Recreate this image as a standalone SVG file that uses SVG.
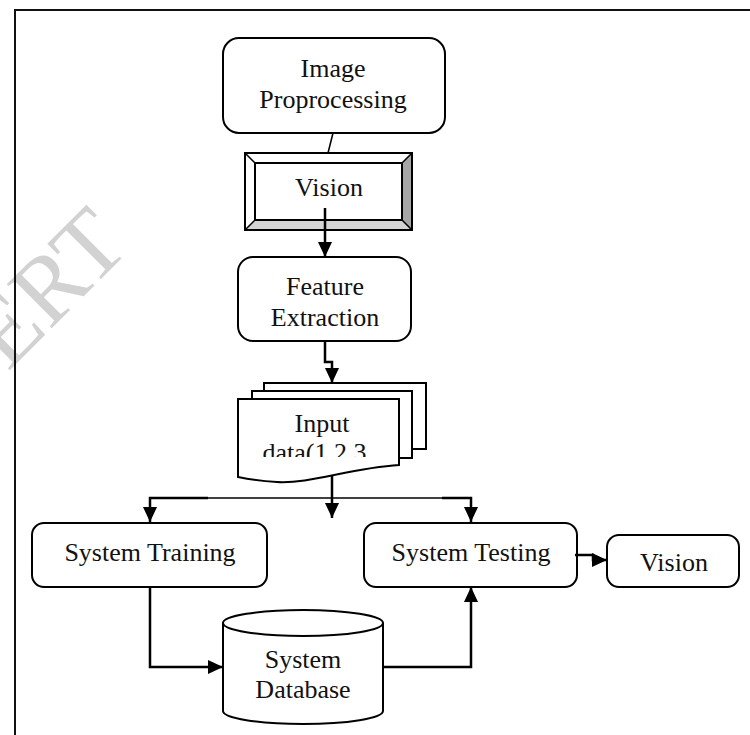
<svg xmlns="http://www.w3.org/2000/svg" width="750" height="735" viewBox="0 0 750 735">
<style>
.box{fill:#fff;stroke:#000;stroke-width:2}
.t{font-family:"Liberation Serif","Times New Roman",serif;font-size:26px;fill:#111;text-anchor:middle}
.c{fill:none;stroke:#000;stroke-width:2.5}
.thin{fill:none;stroke:#000;stroke-width:1.5}
.wm{font-family:"Liberation Serif","Times New Roman",serif;font-size:96px;fill:#d2d2d2;text-anchor:end}
</style>
<defs>
<marker id="ah" markerUnits="userSpaceOnUse" markerWidth="16" markerHeight="16" viewBox="0 0 16 16" refX="15" refY="8" orient="auto">
<path d="M0,1 L15,8 L0,15 Z" fill="#000"/>
</marker>
<clipPath id="clipData"><rect x="230" y="438" width="180" height="19"/></clipPath>
</defs>
<rect x="0" y="0" width="750" height="735" fill="#fff"/>
<text class="wm" transform="translate(132,248) rotate(-45)">ERT</text>
<path d="M15,735 V10 H750" fill="none" stroke="#111" stroke-width="2"/>

<g id="image-proprocessing">
<rect class="box" x="223" y="38" width="222" height="95" rx="16"/>
<text class="t" x="333" y="77">Image</text>
<text class="t" x="333" y="108">Proprocessing</text>
</g>

<g id="vision-top">
<polygon points="245,153 412,153 402,163 255,163" fill="#fff"/>
<polygon points="245,153 255,163 255,220 245,230" fill="#fff"/>
<polygon points="412,153 412,230 402,220 402,163" fill="#a6a6a6"/>
<polygon points="245,230 412,230 402,220 255,220" fill="#d4d4d4"/>
<rect x="245" y="153" width="167" height="77" fill="none" stroke="#000" stroke-width="2"/>
<rect x="255" y="163" width="147" height="57" fill="none" stroke="#000" stroke-width="2"/>
<path d="M245,153 L255,163 M412,153 L402,163 M245,230 L255,220 M412,230 L402,220" stroke="#000" stroke-width="1.5"/>
<text class="t" x="329" y="196">Vision</text>
</g>

<g id="feature-extraction">
<rect class="box" x="238" y="257" width="173" height="84" rx="15"/>
<text class="t" x="325" y="295">Feature</text>
<text class="t" x="325" y="326">Extraction</text>
</g>

<g id="input-data">
<rect class="box" x="264" y="383" width="162" height="66"/>
<rect class="box" x="252" y="391" width="160" height="67"/>
<path class="box" d="M238,399 H399 V465 C350,468 310,484 277,482 C260,481 248,479 238,477 Z"/>
<text class="t" x="322" y="432">Input</text>
<text class="t" x="321" y="461" clip-path="url(#clipData)">data(1,2,3..</text>
</g>

<g id="system-training">
<rect class="box" x="32" y="523" width="235" height="64" rx="12"/>
<text class="t" x="150" y="561">System Training</text>
</g>

<g id="system-testing">
<rect class="box" x="364" y="523" width="213" height="64" rx="12"/>
<text class="t" x="471" y="561">System Testing</text>
</g>

<g id="vision-output">
<rect class="box" x="607" y="535" width="132" height="52" rx="12"/>
<text class="t" x="674" y="571">Vision</text>
</g>

<g id="system-database">
<path class="box" d="M223,623 V711 A80,13 0 0 0 383,711 V623"/>
<ellipse class="box" cx="303" cy="623" rx="80" ry="13"/>
<text class="t" x="303" y="668">System</text>
<text class="t" x="303" y="698">Database</text>
</g>

<g id="connectors">
<path class="thin" d="M333,133 L328,153"/>
<path class="c" d="M325,208 V257" marker-end="url(#ah)"/>
<path class="c" d="M325,341 V362 H332 V383" marker-end="url(#ah)"/>
<path class="c" d="M332,476 V518" marker-end="url(#ah)"/>
<path class="thin" d="M208,498 H442"/>
<path class="c" d="M208,498 H150 V522" marker-end="url(#ah)"/>
<path class="c" d="M442,498 H471 V522" marker-end="url(#ah)"/>
<path class="c" d="M150,587 V667 H223" marker-end="url(#ah)"/>
<path class="c" d="M383,667 H471 V587" marker-end="url(#ah)"/>
<path class="c" d="M575,555 H593 V560 H607" marker-end="url(#ah)"/>
</g>
</svg>
